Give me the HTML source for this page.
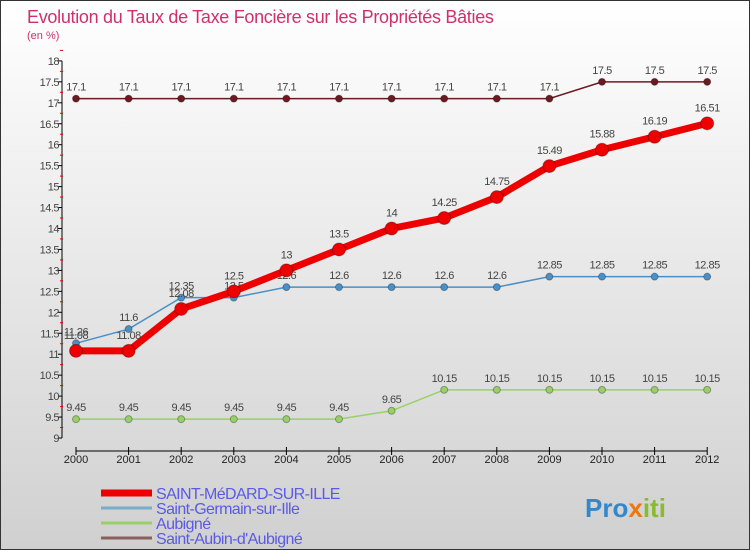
<!DOCTYPE html>
<html><head><meta charset="utf-8"><style>
body{margin:0;}
#c{width:750px;height:550px;position:relative;font-family:"Liberation Sans",sans-serif;background:linear-gradient(#ffffff,#d0d0d0);border:1px solid #333;box-sizing:border-box;overflow:hidden}
</style></head><body>
<div id="c">
<svg id="s" width="750" height="550" style="position:absolute;left:0;top:0">
<text x="26" y="22" font-size="18" fill="#d0306a" letter-spacing="-0.3">Evolution du Taux de Taxe Foncière sur les Propriétés Bâties</text>
<text x="26" y="38" font-size="11" fill="#d0306a">(en %)</text>
</svg>
</div>
<script>
const years=[2000,2001,2002,2003,2004,2005,2006,2007,2008,2009,2010,2011,2012];
const smedard=[11.08,11.08,12.08,12.5,13,13.5,14,14.25,14.75,15.49,15.88,16.19,16.51];
const sgermain=[11.26,11.6,12.35,12.35,12.6,12.6,12.6,12.6,12.6,12.85,12.85,12.85,12.85];
const aubigne=[9.45,9.45,9.45,9.45,9.45,9.45,9.65,10.15,10.15,10.15,10.15,10.15,10.15];
const saubin=[17.1,17.1,17.1,17.1,17.1,17.1,17.1,17.1,17.1,17.1,17.5,17.5,17.5];
const yTicks=[9,9.5,10,10.5,11,11.5,12,12.5,13,13.5,14,14.5,15,15.5,16,16.5,17,17.5,18];
const sgLabels=["11.26","11.6","12.35","12.5","12.6","12.6","12.6","12.6","12.6","12.85","12.85","12.85","12.85"];
const NS="http://www.w3.org/2000/svg";
const svg=document.getElementById('s');
const X=i=>75+i*52.6;
const Y=v=>437-(v-9)*41.9;
function el(t,a,name){const e=document.createElementNS(NS,t);for(const k in a)e.setAttribute(k,a[k]);


svg.appendChild(e);return e;}
el('line',{x1:61,y1:Y(18),x2:61,y2:Y(9),stroke:'#000'},'y-axis');
yTicks.forEach((t,i)=>{el('line',{x1:57,y1:Y(t),x2:61,y2:Y(t),stroke:'#000'},'y-tick');
 const tx=el('text',{x:58,y:Y(t)+4,'font-size':11,'text-anchor':'end',fill:'#444','letter-spacing':'-0.5'},'y-tick-label');tx.textContent=t;
 el('line',{x1:59,y1:Y(t)-10.5,x2:62,y2:Y(t)-10.5,stroke:'#e00'},'y-minor-tick');});
el('line',{x1:X(0),y1:450,x2:X(12),y2:450,stroke:'#000'},'x-axis');
years.forEach((yr,i)=>{el('line',{x1:X(i),y1:446,x2:X(i),y2:454,stroke:'#000'},'x-tick');
 const t=el('text',{x:X(i),y:462,'font-size':11,'text-anchor':'middle',fill:'#222'},'x-tick-label');t.textContent=yr;});
function series(d,col,w,r,name,labels,dy){
 el('polyline',{points:d.map((v,i)=>X(i)+','+Y(v)).join(' '),fill:'none',stroke:col,'stroke-width':w},name+'-line');
 d.forEach((v,i)=>{el('circle',{cx:X(i),cy:Y(v),r:r,fill:col,stroke:'rgba(0,0,0,0.3)'},name+'-point');
  const t=el('text',{x:X(i),y:Y(v)-dy,'font-size':11,'text-anchor':'middle',fill:'#444','letter-spacing':'-0.5'},name+'-value-label');t.textContent=labels?labels[i]:v;});
}
series(saubin,'#6b1a1f',1.5,3.5,'saint-aubin',null,8);
series(aubigne,'#99d066',1.5,3.5,'aubigne',null,8);
series(sgermain,'#4a90c8',1.5,3.5,'saint-germain',sgLabels,8);
series(smedard,'#ee0000',7,6.5,'saint-medard',null,12);
const leg=[['SAINT-MéDARD-SUR-ILLE','#ee0000',7],['Saint-Germain-sur-Ille','#7aaccc',3],['Aubigné','#99d066',3],['Saint-Aubin-d\'Aubigné','#8a6060',3]];
leg.forEach((l,i)=>{const y=492+i*15;
 el('line',{x1:100,y1:y,x2:151,y2:y,stroke:l[1],'stroke-width':l[2]},'legend-swatch');
 const t=el('text',{x:155,y:y+6,'font-size':16,fill:'#5a5ae6','letter-spacing':'-0.6'},'legend-entry');t.textContent=l[0];});
const p=el('text',{x:584,y:516,'font-size':26,'font-weight':'bold',fill:'#3388cc'},'proxiti-logo');
const parts=[['Pro','#3388cc'],['x','#ee7711'],['iti','#88bb33']];
parts.forEach(q=>{const s=document.createElementNS(NS,'tspan');s.setAttribute('fill',q[1]);s.textContent=q[0];p.appendChild(s);});
</script>
</body></html>
